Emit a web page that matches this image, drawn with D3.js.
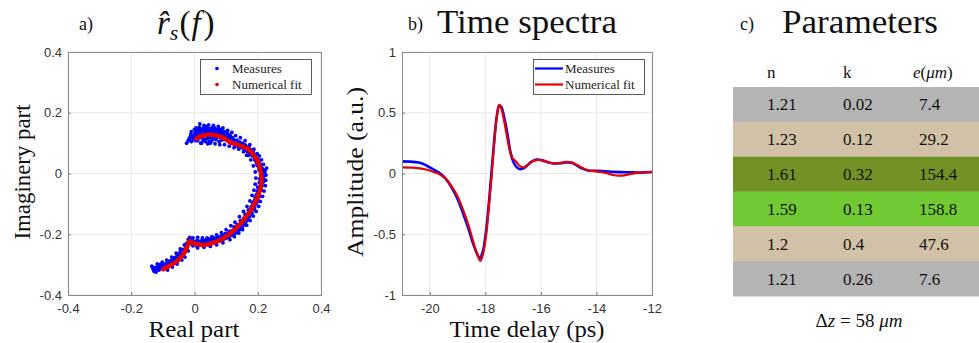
<!DOCTYPE html>
<html><head><meta charset="utf-8">
<script src="https://cdn.jsdelivr.net/npm/d3@7/dist/d3.min.js"></script>
<style>body{margin:0;background:#fff}svg{display:block}</style></head>
<body><svg id="chart" width="979" height="343"></svg>
<script>
// ---------- DATA ----------
const scatterMeasures = [
[-0.025,0.100],[-0.02,0.108],[-0.015,0.118],[-0.012,0.128],[-0.008,0.122],[-0.005,0.112],[0.000,0.131],[0.002,0.120],[0.005,0.138],[0.008,0.127],
[0.010,0.108],[0.012,0.145],[0.015,0.132],[0.018,0.118],[0.020,0.140],[0.022,0.100],[0.025,0.128],[0.028,0.150],[0.030,0.137],[0.032,0.112],
[0.035,0.145],[0.038,0.125],[0.040,0.155],[0.042,0.098],[0.045,0.138],[0.048,0.118],[0.050,0.147],[0.053,0.130],[0.055,0.108],[0.058,0.142],
[0.060,0.122],[0.063,0.150],[0.066,0.135],[0.068,0.112],[0.070,0.143],[0.073,0.125],[0.076,0.148],[0.078,0.105],[0.080,0.136],[0.083,0.118],
[0.086,0.142],[0.090,0.128],[0.093,0.112],[0.096,0.138],[0.100,0.120],[0.104,0.132],[0.108,0.110],[0.112,0.126],[0.116,0.100],[0.120,0.118],
[0.125,0.108],[0.130,0.092],[0.134,0.110],[0.138,0.098],[0.143,0.104],[0.148,0.088],[0.152,0.099],[0.157,0.082],[0.160,0.094],[0.165,0.085],
[0.170,0.072],[0.172,0.088],[0.177,0.068],[0.180,0.078],[0.183,0.058],[0.186,0.070],[0.190,0.045],[0.193,0.060],[0.196,0.035],[0.199,0.048],
[0.202,0.022],[0.205,0.038],[0.207,0.010],[0.210,0.025],[0.212,0.000],[0.216,0.015],[0.228,0.018],[0.222,0.005],[0.218,-0.010],[0.213,-0.020],
[0.220,-0.025],[0.205,-0.030],[0.214,-0.040],[0.208,-0.050],[0.200,-0.045],[0.204,-0.065],[0.196,-0.070],[0.200,-0.085],[0.190,-0.088],[0.194,-0.100],
[0.186,-0.105],[0.188,-0.118],[0.178,-0.115],[0.182,-0.130],[0.172,-0.128],[0.174,-0.142],[0.165,-0.140],[0.166,-0.155],[0.157,-0.152],[0.158,-0.168],
[0.148,-0.162],[0.150,-0.178],[0.140,-0.172],[0.140,-0.188],[0.130,-0.180],[0.130,-0.196],[0.120,-0.188],[0.118,-0.203],[0.108,-0.195],[0.106,-0.210],
[0.097,-0.198],[0.095,-0.215],[0.086,-0.205],[0.083,-0.220],[0.074,-0.208],[0.070,-0.224],[0.062,-0.212],[0.058,-0.228],[0.050,-0.215],[0.045,-0.230],
[0.038,-0.218],[0.032,-0.233],[0.025,-0.220],[0.020,-0.236],[0.012,-0.222],[0.008,-0.240],[0.000,-0.225],[-0.005,-0.238],[-0.012,-0.222],[-0.015,-0.232],
[-0.020,-0.218],[-0.025,-0.230],[-0.028,-0.245],[-0.032,-0.235],[-0.030,-0.258],[-0.036,-0.250],[-0.040,-0.265],[-0.045,-0.258],[-0.048,-0.275],[-0.055,-0.268],
[-0.058,-0.285],[-0.065,-0.278],[-0.070,-0.292],[-0.078,-0.288],[-0.082,-0.300],[-0.090,-0.296],[-0.095,-0.305],[-0.102,-0.300],[-0.108,-0.310],[-0.115,-0.305],
[-0.120,-0.318],[-0.125,-0.310],[-0.130,-0.315],[-0.122,-0.325],[-0.112,-0.318],
[0.004,0.125],[0.016,0.125],[0.026,0.118],[0.036,0.132],[0.046,0.127],[0.056,0.135],[0.066,0.125],[0.074,0.135],[0.084,0.130],[0.092,0.122],
[0.102,0.113],[0.110,0.118],[0.122,0.100],[0.136,0.090],[0.145,0.095],[0.155,0.090],[0.162,0.078],[0.168,0.080],[0.175,0.062],[0.188,0.055],
[0.198,0.028],[0.204,0.012],[0.209,-0.005],[0.206,-0.018],[0.210,-0.032],[0.198,-0.058],[0.192,-0.078],[0.183,-0.095],[0.180,-0.108],[0.170,-0.120],
[0.160,-0.135],[0.155,-0.148],[0.145,-0.155],[0.135,-0.168],[0.125,-0.176],[0.112,-0.190],[0.100,-0.205],[0.090,-0.210],[0.078,-0.215],[0.066,-0.218],
[0.054,-0.222],[0.042,-0.225],[0.030,-0.226],[0.018,-0.228],[0.005,-0.230],[-0.008,-0.228],[-0.018,-0.228],[-0.038,-0.272],[-0.052,-0.280],[-0.062,-0.288],
[-0.075,-0.296],[-0.088,-0.305],[-0.100,-0.310],[-0.118,-0.312],[-0.128,-0.322],[0.017,0.163],[0.005,0.150],[-0.010,0.138],
[-0.018,0.112],[-0.010,0.105],[-0.003,0.125],[0.003,0.108],[0.007,0.145],[0.011,0.118],[0.014,0.138],[0.019,0.128],[0.023,0.145],[0.027,0.108],
[0.031,0.125],[0.034,0.152],[0.037,0.140],[0.041,0.115],[0.044,0.148],[0.047,0.105],[0.051,0.138],[0.054,0.120],[0.057,0.152],[0.061,0.140],
[0.064,0.115],[0.067,0.145],[0.071,0.118],[0.075,0.142],[0.079,0.128],[0.082,0.145],[0.085,0.110],[0.088,0.138],[0.091,0.132],[0.095,0.125],
[0.098,0.130],[0.103,0.125],[0.106,0.120],[0.111,0.110],[0.114,0.122],[0.118,0.108],[0.123,0.112],[0.128,0.104],[0.132,0.100],[0.141,0.098],
[0.147,0.100],[0.151,0.085],[0.158,0.092],[0.163,0.090],[0.167,0.072],[0.173,0.080],[0.178,0.075],[0.184,0.065],[0.189,0.062],[0.192,0.050],
[0.195,0.042],[0.201,0.032],[0.203,0.045],[0.208,0.030],[0.211,0.018],[0.214,0.008],[0.215,-0.005],[0.217,-0.015],[0.211,-0.015],[0.216,-0.030],
[0.209,-0.040],[0.212,-0.055],[0.203,-0.055],[0.206,-0.075],[0.198,-0.078],[0.197,-0.095],[0.189,-0.095],[0.190,-0.112],[0.184,-0.118],[0.176,-0.125],
[0.177,-0.135],[0.169,-0.135],[0.168,-0.148],[0.161,-0.148],[0.161,-0.160],[0.152,-0.160],[0.153,-0.172],[0.144,-0.168],[0.144,-0.182],[0.135,-0.178],
[0.135,-0.192],[0.126,-0.186],[0.124,-0.200],[0.114,-0.198],[0.110,-0.208],[0.102,-0.200],[0.100,-0.213],[0.092,-0.205],[0.088,-0.218],[0.080,-0.210],
[0.076,-0.222],[0.068,-0.214],[0.064,-0.226],[0.056,-0.216],[0.052,-0.228],[0.046,-0.218],[0.040,-0.230],[0.034,-0.220],[0.028,-0.234],[0.022,-0.222],
[0.015,-0.232],[0.006,-0.222],[-0.002,-0.232],[-0.008,-0.220],[-0.022,-0.238],[-0.026,-0.252],[-0.034,-0.262],[-0.042,-0.272],[-0.050,-0.266],[-0.054,-0.290],
[-0.060,-0.276],[-0.068,-0.284],[-0.072,-0.300],[-0.080,-0.294],[-0.086,-0.298],[-0.092,-0.310],[-0.105,-0.305],[-0.110,-0.300],[-0.126,-0.318],[-0.132,-0.310],
[0.205,0.058],[0.212,0.045],[0.218,0.030],[0.224,0.012],[0.226,-0.005],[0.225,-0.022],[0.224,-0.040],[0.220,-0.058],[0.215,-0.075],[0.208,-0.092],
[0.203,-0.108],[0.195,-0.125],[0.186,-0.140],[0.176,-0.155],[0.165,-0.170],[0.152,-0.185],[0.140,-0.196],[0.126,-0.208],[0.112,-0.218],
[0.165,0.060],[0.178,0.045],[0.186,0.025],[0.192,0.005],[0.194,-0.015],[0.192,-0.035],[0.188,-0.055],[0.182,-0.072],[0.175,-0.090],[0.166,-0.108],
[0.155,-0.125],[0.142,-0.142],[0.128,-0.160],[0.115,-0.172],[0.100,-0.185],[0.085,-0.195],[0.070,-0.202],[0.055,-0.208],[0.040,-0.212],[0.025,-0.212],
[0.010,-0.210],[-0.005,-0.212],[-0.015,-0.210],
[0.000,0.145],[0.015,0.152],[0.030,0.158],[0.045,0.160],[0.060,0.158],[0.075,0.155],[0.090,0.150],[0.105,0.142],[0.118,0.135],[0.130,0.125],
[0.145,0.118],[0.160,0.108],[0.175,0.095],[0.188,0.080],[0.198,0.065],
[0.020,0.100],[0.035,0.105],[0.050,0.100],[0.065,0.098],[0.080,0.095],[0.095,0.095],[0.110,0.090],[0.125,0.085],[0.140,0.080],[0.155,0.072],[0.170,0.060],
[-0.020,-0.255],[-0.030,-0.275],[-0.040,-0.285],[-0.055,-0.298],[-0.070,-0.308],[-0.085,-0.318],
[-0.045,-0.248],[-0.058,-0.262],[-0.072,-0.275],[-0.088,-0.285],[-0.102,-0.292],[-0.118,-0.298],[-0.135,-0.305],
[0.010,-0.245],[0.030,-0.243],[0.050,-0.240],[0.070,-0.235],[0.090,-0.228]
];
const scatterFit = [
[0.006,0.115],[0.02,0.123],[0.035,0.127],[0.05,0.128],[0.065,0.126],[0.08,0.122],[0.095,0.115],[0.105,0.108],[0.117,0.101],[0.133,0.096],
[0.154,0.089],[0.172,0.078],[0.188,0.060],[0.2,0.040],[0.207,0.018],[0.211,-0.004],[0.212,-0.026],[0.208,-0.050],[0.200,-0.076],[0.190,-0.098],
[0.180,-0.118],[0.165,-0.140],[0.149,-0.161],[0.133,-0.178],[0.117,-0.194],[0.100,-0.207],[0.085,-0.217],[0.065,-0.226],[0.043,-0.233],[0.025,-0.235],
[0.006,-0.232],[-0.005,-0.229],[-0.015,-0.223],[-0.025,-0.246],[-0.035,-0.265],[-0.046,-0.279],[-0.060,-0.292],[-0.073,-0.300],[-0.086,-0.308],[-0.099,-0.315]
];
const timeMeasured = [-21,-20.7,-20.4,-20.2,-20.0,-19.8,-19.6,-19.4,-19.2,-19.0,-18.8,-18.6,-18.45,-18.3,-18.2,-18.1,-18.0,-17.9,-17.8,-17.7,-17.6,-17.5,-17.42,-17.32,-17.2,-17.1,-17.0,-16.9,-16.8,-16.7,-16.55,-16.35,-16.15,-15.95,-15.7,-15.5,-15.3,-15.1,-14.9,-14.7,-14.5,-14.3,-14.0,-13.7,-13.4,-13.1,-12.8,-12.5,-12.2,-12.0];
const ampMeasured  = [0.100,0.098,0.090,0.075,0.050,0.025,-0.005,-0.050,-0.120,-0.210,-0.330,-0.460,-0.570,-0.660,-0.695,-0.650,-0.520,-0.310,-0.050,0.220,0.450,0.560,0.545,0.460,0.320,0.180,0.100,0.060,0.040,0.037,0.055,0.095,0.115,0.108,0.090,0.082,0.085,0.090,0.088,0.065,0.040,0.025,0.022,0.018,0.013,0.011,0.010,0.008,0.010,0.012];
const timeFit = [-21,-20.6,-20.3,-20.0,-19.8,-19.6,-19.4,-19.2,-19.0,-18.8,-18.6,-18.45,-18.3,-18.18,-18.08,-17.98,-17.88,-17.78,-17.68,-17.58,-17.5,-17.42,-17.32,-17.2,-17.1,-17.0,-16.9,-16.8,-16.65,-16.5,-16.3,-16.1,-15.9,-15.7,-15.5,-15.3,-15.1,-14.9,-14.7,-14.5,-14.3,-14.0,-13.8,-13.6,-13.4,-13.2,-13.0,-12.8,-12.6,-12.3,-12.0];
const ampFit  = [0.050,0.048,0.040,0.025,0.008,-0.012,-0.050,-0.110,-0.190,-0.300,-0.430,-0.550,-0.660,-0.720,-0.660,-0.520,-0.300,-0.030,0.250,0.480,0.565,0.530,0.430,0.280,0.170,0.120,0.100,0.070,0.050,0.065,0.100,0.112,0.105,0.090,0.082,0.088,0.095,0.092,0.070,0.045,0.025,0.018,0.010,0.000,-0.012,-0.018,-0.015,-0.005,0.003,0.010,0.013];
const ticksA = [-0.4,-0.2,0,0.2,0.4];
const ticksBx = [-20,-18,-16,-14,-12];
const ticksBy = [-1,-0.5,0,0.5,1];
const tableHeader = ["n","k","e(μm)"];
const colN = ["1.21","1.23","1.61","1.59","1.2","1.21"];
const colK = ["0.02","0.12","0.32","0.13","0.4","0.26"];
const colE = ["7.4","29.2","154.4","158.8","47.6","7.6"];
const rowColors = ["#b4b4b4","#d0c1a7","#739225","#71c933","#d0c1a7","#b4b4b4"];

// ---------- DRAW ----------
const svg = d3.select("#chart");
const SERIF = "'Liberation Serif','DejaVu Serif',serif";
const SANS = "'Liberation Sans',Arial,sans-serif";

function frame(g, x, y, xt, yt){
  const [x0,x1]=x.range(), [y1,y0]=y.range();
  g.append("g").selectAll("line").data(xt).join("line")
    .attr("x1",d=>x(d)).attr("x2",d=>x(d)).attr("y1",y0).attr("y2",y1)
    .attr("stroke","#e8e8e8").attr("stroke-width",1);
  g.append("g").selectAll("line").data(yt).join("line")
    .attr("y1",d=>y(d)).attr("y2",d=>y(d)).attr("x1",x0).attr("x2",x1)
    .attr("stroke","#e8e8e8").attr("stroke-width",1);
}
function axes(g, x, y, xt, yt, fmtX, fmtY){
  const [x0,x1]=x.range(), [y1,y0]=y.range();
  const ax = g.append("g").attr("transform",`translate(0,${y1})`)
    .call(d3.axisBottom(x).tickValues(xt).tickSize(-3).tickSizeOuter(0).tickPadding(9).tickFormat(fmtX));
  const ay = g.append("g").attr("transform",`translate(${x0},0)`)
    .call(d3.axisLeft(y).tickValues(yt).tickSize(-3).tickSizeOuter(0).tickPadding(6).tickFormat(fmtY));
  [ax,ay].forEach(a=>{
    a.select(".domain").remove();
    a.selectAll("line").attr("stroke","#777");
    a.selectAll("text").attr("font-family",SANS).attr("font-size",13).attr("fill","#333");
  });
  g.append("rect").attr("x",x0+0.5).attr("y",y0+0.5).attr("width",x1-x0).attr("height",y1-y0)
    .attr("fill","none").attr("stroke","#8a8a8a").attr("stroke-width",1);
}
const fmt = d=> d===0 ? "0" : String(d);

// Panel a
const xa = d3.scaleLinear().domain([-0.4,0.4]).range([68,321]);
const ya = d3.scaleLinear().domain([-0.4,0.4]).range([295,52]);
const ga = svg.append("g");
frame(ga, xa, ya, ticksA, ticksA);
ga.append("g").selectAll("circle").data(scatterMeasures).join("circle")
  .attr("cx",d=>xa(d[0])).attr("cy",d=>ya(d[1])).attr("r",1.9).attr("fill","#0000ff");
ga.append("path").datum(scatterFit)
  .attr("d",d3.line().x(d=>xa(d[0])).y(d=>ya(d[1])).curve(d3.curveCatmullRom))
  .attr("fill","none").attr("stroke","#e60000").attr("stroke-width",4.5).attr("stroke-linecap","round").attr("stroke-linejoin","round");
axes(ga, xa, ya, ticksA, ticksA, fmt, fmt);
ga.append("rect").attr("x",200.5).attr("y",59.5).attr("width",111).attr("height",35).attr("fill","#fff").attr("stroke","#333").attr("stroke-width",0.8);
ga.append("circle").attr("cx",217).attr("cy",68.5).attr("r",1.8).attr("fill","#0000ff");
ga.append("circle").attr("cx",217).attr("cy",84.5).attr("r",1.8).attr("fill","#e60000");
ga.append("text").attr("x",232).attr("y",73).text("Measures").attr("font-family",SERIF).attr("font-size",13).attr("fill","#222");
ga.append("text").attr("x",232).attr("y",89).text("Numerical fit").attr("font-family",SERIF).attr("font-size",13).attr("fill","#222");

// Panel b
const xb = d3.scaleLinear().domain([-21,-12]).range([402,652]);
const yb = d3.scaleLinear().domain([-1,1]).range([295,52]);
const gb = svg.append("g");
frame(gb, xb, yb, ticksBx, ticksBy);
const lineB = (ts,as)=> d3.line().x((d,i)=>xb(ts[i])).y((d,i)=>yb(as[i])).curve(d3.curveCatmullRom)(ts);
gb.append("path").attr("d",lineB(timeMeasured,ampMeasured)).attr("fill","none").attr("stroke","#0000ff").attr("stroke-width",2.6);
gb.append("path").attr("d",lineB(timeFit,ampFit)).attr("fill","none").attr("stroke","#e60000").attr("stroke-width",2.2);
axes(gb, xb, yb, ticksBx, ticksBy, fmt, fmt);
gb.append("rect").attr("x",533.5).attr("y",59.5).attr("width",111).attr("height",35).attr("fill","#fff").attr("stroke","#333").attr("stroke-width",0.8);
gb.append("line").attr("x1",535).attr("x2",563).attr("y1",68.5).attr("y2",68.5).attr("stroke","#0000ff").attr("stroke-width",2.2);
gb.append("line").attr("x1",535).attr("x2",563).attr("y1",84.5).attr("y2",84.5).attr("stroke","#e60000").attr("stroke-width",2.2);
gb.append("text").attr("x",565).attr("y",73).text("Measures").attr("font-family",SERIF).attr("font-size",13).attr("fill","#222");
gb.append("text").attr("x",565).attr("y",89).text("Numerical fit").attr("font-family",SERIF).attr("font-size",13).attr("fill","#222");

// Titles & axis labels
function txt(x,y,s,size,opts={}){
  const t = svg.append("text").attr("x",x).attr("y",y).text(s).attr("font-family",SERIF).attr("font-size",size).attr("fill","#111");
  if(opts.anchor) t.attr("text-anchor",opts.anchor);
  if(opts.len) t.attr("textLength",opts.len).attr("lengthAdjust","spacingAndGlyphs");
  if(opts.rot) t.attr("transform",`rotate(-90,${x},${y})`);
  return t;
}
txt(79,30,"a)",18);
txt(408,30,"b)",18);
txt(740,30,"c)",18);
const tr = svg.append("text").attr("x",157).attr("y",34).attr("font-family",SERIF).attr("font-size",33).attr("fill","#111");
tr.append("tspan").attr("font-style","italic").text("r\u0302");
tr.append("tspan").attr("font-style","italic").attr("font-size",22).attr("dy",6).text("s");
tr.append("tspan").attr("dy",-6).attr("dx",1).text("(");
tr.append("tspan").attr("font-style","italic").attr("dx",1).text("f");
tr.append("tspan").attr("dx",3).text(")");
txt(437,33,"Time spectra",34,{len:180});
txt(782,33,"Parameters",34,{len:156});
txt(194,337,"Real part",23,{anchor:"middle",len:91});
txt(527,337,"Time delay (ps)",23,{anchor:"middle",len:155});
txt(30,172,"Imaginery part",23,{anchor:"middle",len:135,rot:true});
txt(363,172,"Amplitude (a.u.)",23,{anchor:"middle",len:170,rot:true});

// Table
const ty = d3.scaleBand().domain(d3.range(colN.length)).range([87,296]).paddingInner(0);
const gt = svg.append("g");
gt.selectAll("rect").data(rowColors).join("rect")
  .attr("x",733).attr("width",246).attr("y",(d,i)=>ty(i)).attr("height",ty.bandwidth()+0.5).attr("fill",d=>d);
const colX = [767,843,919];
[colN,colK,colE].forEach((col,ci)=>{
  gt.append("g").selectAll("text").data(col).join("text")
    .attr("x",colX[ci]).attr("y",(d,i)=>ty(i)+ty.bandwidth()/2+6).text(d=>d)
    .attr("font-family",SERIF).attr("font-size",17).attr("fill","#111");
});
txt(767,78,tableHeader[0],17);
txt(843,78,tableHeader[1],17);
const th = svg.append("text").attr("x",913).attr("y",78).attr("font-family",SERIF).attr("font-size",17).attr("fill","#111");
th.append("tspan").attr("font-style","italic").text("e");
th.append("tspan").text("(");
th.append("tspan").attr("font-style","italic").text("μm");
th.append("tspan").text(")");
const dz = svg.append("text").attr("x",859).attr("y",327).attr("text-anchor","middle").attr("font-family",SERIF).attr("font-size",19).attr("fill","#111");
dz.append("tspan").text("Δ");
dz.append("tspan").attr("font-style","italic").text("z");
dz.append("tspan").text(" = 58 ");
dz.append("tspan").attr("font-style","italic").text("μm");
</script></body></html>
